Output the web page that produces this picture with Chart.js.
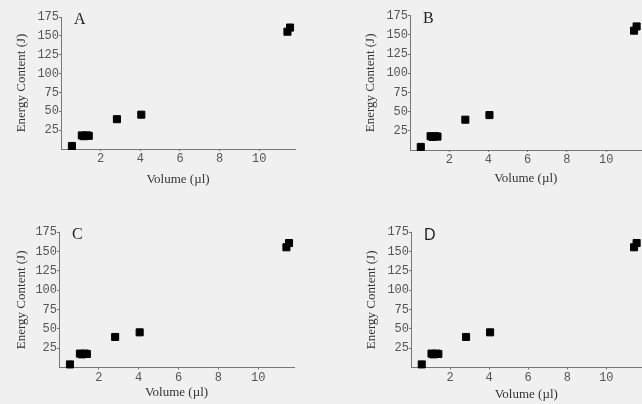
<!DOCTYPE html>
<html>
<head>
<meta charset="utf-8">
<script src="https://cdn.jsdelivr.net/npm/chart.js@4"></script>
<style>
  body { margin: 0; background: #f0f0f0; overflow: hidden; }
  .panel { position: absolute; width: 321px; height: 202px; }
</style>
</head>
<body>
<div class="panel" style="left:0;top:0"><canvas id="chartA"></canvas></div>
<div class="panel" style="left:321px;top:0"><canvas id="chartB"></canvas></div>
<div class="panel" style="left:0;top:202px"><canvas id="chartC"></canvas></div>
<div class="panel" style="left:321px;top:202px"><canvas id="chartD"></canvas></div>
<script>
// datos (volumen en µl, energía en J)
const volumen = [0.55, 1.05, 1.15, 1.3, 1.4, 2.82, 4.05, 11.42, 11.55];
const energia = [4, 18, 17, 18, 17.5, 39.5, 45.5, 155.5, 161];
const ticksX = [2, 4, 6, 8, 10];
const ticksY = [25, 50, 75, 100, 125, 150, 175];
const letras = ['A', 'B', 'C', 'D'];

// geometría de cada panel: izquierda, arriba, abajo del área, derecha libre, relleno títulos
const paneles = [
    { id: 'chartA', L: 61, T: 17, B: 149, R: 26, yPad: 13.5, xPad: 14.5, fuente: 'Liberation Serif' },
    { id: 'chartB', L: 89, T: 15.7, B: 150, R: 0.5, yPad: 42, xPad: 16, fuente: 'Liberation Serif' },
    { id: 'chartC', L: 59, T: 30.2, B: 165.5, R: 27, yPad: 13.5, xPad: 3.2, fuente: 'Liberation Serif' },
    { id: 'chartD', L: 90, T: 30.2, B: 165.5, R: 0.5, yPad: 42.5, xPad: 1.5, fuente: 'Liberation Sans' }
];

const fuenteTicks = { family: 'Liberation Mono', size: 12 };

paneles.forEach((p, i) => {
    const letra = {
        id: 'letra',
        afterDraw(chart) {
            const ctx = chart.ctx;
            ctx.save();
            ctx.fillStyle = '#222';
            ctx.font = '16px "' + p.fuente + '"';
            ctx.textBaseline = 'middle';
            ctx.fillText(letras[i], chart.chartArea.left + 13, chart.chartArea.top + 3);
            ctx.restore();
        }
    };

    new Chart(document.getElementById(p.id), {
        type: 'scatter',
        data: {
            datasets: [{
                data: volumen.map((v, k) => ({ x: v, y: energia[k] })),
                backgroundColor: '#000',
                borderColor: '#000',
                pointStyle: 'rect',
                pointRadius: 5,
                borderWidth: 1,
                clip: false
            }]
        },
        options: {
            responsive: true,
            maintainAspectRatio: false,
            animation: false,
            layout: { autoPadding: false, padding: { left: 0, top: p.T, right: p.R, bottom: 0 } },
            plugins: { legend: { display: false }, tooltip: { enabled: false } },
            scales: {
                x: {
                    type: 'linear',
                    min: 0,
                    max: 11.8,
                    afterFit: s => {
                        s.height = 202 - p.B;
                        s.paddingLeft = 0;
                        s.paddingRight = 0;
                    },
                    afterBuildTicks: s => { s.ticks = ticksX.map(v => ({ value: v })); },
                    border: { display: true, color: '#777', width: 1 },
                    grid: { drawOnChartArea: false, drawTicks: true, tickLength: 2, color: '#777' },
                    ticks: { font: fuenteTicks, color: '#555', padding: 1, maxRotation: 0 },
                    title: {
                        display: true,
                        text: 'Volume (µl)',
                        font: { family: 'Liberation Serif', size: 13 },
                        color: '#333',
                        padding: { top: 0, bottom: p.xPad }
                    }
                },
                y: {
                    min: 0,
                    max: 175,
                    afterFit: s => {
                        s.width = p.L;
                        s.paddingTop = 0;
                        s.paddingBottom = 0;
                    },
                    afterBuildTicks: s => { s.ticks = ticksY.map(v => ({ value: v })); },
                    border: { display: true, color: '#777', width: 1 },
                    grid: { drawOnChartArea: false, drawTicks: true, tickLength: 2, color: '#777' },
                    ticks: { font: fuenteTicks, color: '#555', padding: 0 },
                    title: {
                        display: true,
                        text: 'Energy Content (J)',
                        font: { family: 'Liberation Serif', size: 13 },
                        color: '#333',
                        padding: { top: p.yPad, bottom: 0 }
                    }
                }
            }
        },
        plugins: [letra]
    });
});
</script>
</body>
</html>
